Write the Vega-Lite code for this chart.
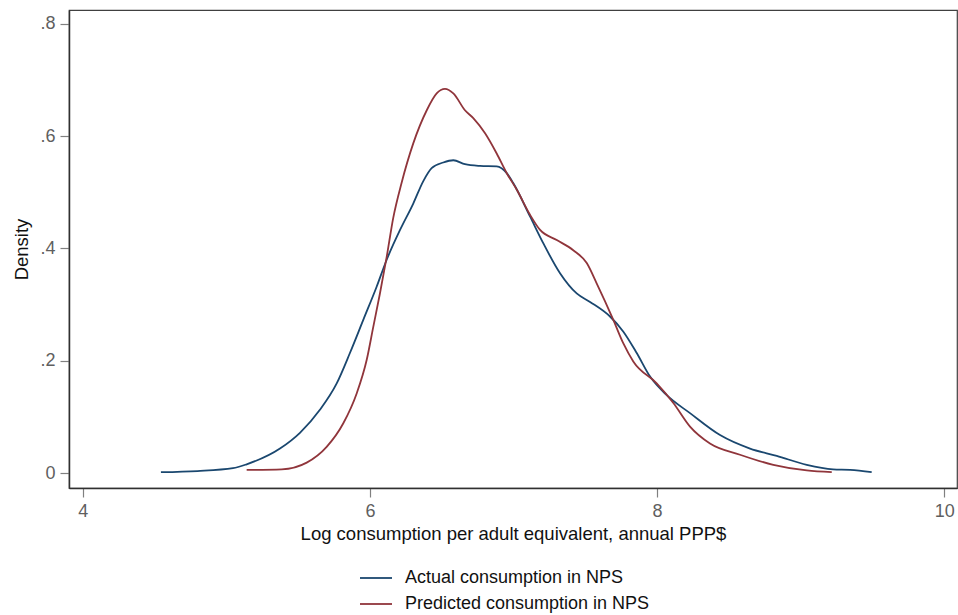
{
  "$schema": "https://vega.github.io/schema/vega-lite/v6.json",
  "width": 888,
  "height": 478,
  "autosize": {"type": "none"},
  "padding": {"left": 69, "top": 10, "right": 1, "bottom": 127},
  "background": "white",
  "config": {
    "font": "Liberation Sans",
    "view": {"stroke": "#404040", "strokeWidth": 1.2},
    "axis": {
      "grid": false,
      "domainColor": "#303030",
      "domainWidth": 1.5,
      "tickColor": "#808080",
      "tickWidth": 1.2,
      "tickSize": 9,
      "labelColor": "#5f5f5f",
      "labelFont": "Liberation Sans",
      "labelFontSize": 18,
      "titleFont": "Liberation Sans",
      "titleFontSize": 18.5,
      "titleFontWeight": "normal",
      "titleColor": "#111111"
    }
  },
  "data": {
    "values": [
      {"x": 4.545, "y": 0.002, "s": "Actual consumption in NPS"},
      {"x": 4.800, "y": 0.004, "s": "Actual consumption in NPS"},
      {"x": 5.047, "y": 0.009, "s": "Actual consumption in NPS"},
      {"x": 5.142, "y": 0.016, "s": "Actual consumption in NPS"},
      {"x": 5.374, "y": 0.044, "s": "Actual consumption in NPS"},
      {"x": 5.513, "y": 0.072, "s": "Actual consumption in NPS"},
      {"x": 5.652, "y": 0.113, "s": "Actual consumption in NPS"},
      {"x": 5.769, "y": 0.160, "s": "Actual consumption in NPS"},
      {"x": 5.861, "y": 0.214, "s": "Actual consumption in NPS"},
      {"x": 5.954, "y": 0.273, "s": "Actual consumption in NPS"},
      {"x": 6.047, "y": 0.332, "s": "Actual consumption in NPS"},
      {"x": 6.117, "y": 0.380, "s": "Actual consumption in NPS"},
      {"x": 6.210, "y": 0.433, "s": "Actual consumption in NPS"},
      {"x": 6.302, "y": 0.480, "s": "Actual consumption in NPS"},
      {"x": 6.372, "y": 0.520, "s": "Actual consumption in NPS"},
      {"x": 6.430, "y": 0.543, "s": "Actual consumption in NPS"},
      {"x": 6.511, "y": 0.553, "s": "Actual consumption in NPS"},
      {"x": 6.581, "y": 0.557, "s": "Actual consumption in NPS"},
      {"x": 6.662, "y": 0.550, "s": "Actual consumption in NPS"},
      {"x": 6.767, "y": 0.547, "s": "Actual consumption in NPS"},
      {"x": 6.883, "y": 0.546, "s": "Actual consumption in NPS"},
      {"x": 6.953, "y": 0.534, "s": "Actual consumption in NPS"},
      {"x": 6.999, "y": 0.516, "s": "Actual consumption in NPS"},
      {"x": 7.115, "y": 0.457, "s": "Actual consumption in NPS"},
      {"x": 7.208, "y": 0.409, "s": "Actual consumption in NPS"},
      {"x": 7.324, "y": 0.356, "s": "Actual consumption in NPS"},
      {"x": 7.440, "y": 0.320, "s": "Actual consumption in NPS"},
      {"x": 7.533, "y": 0.305, "s": "Actual consumption in NPS"},
      {"x": 7.672, "y": 0.279, "s": "Actual consumption in NPS"},
      {"x": 7.765, "y": 0.252, "s": "Actual consumption in NPS"},
      {"x": 7.858, "y": 0.214, "s": "Actual consumption in NPS"},
      {"x": 7.951, "y": 0.172, "s": "Actual consumption in NPS"},
      {"x": 8.067, "y": 0.139, "s": "Actual consumption in NPS"},
      {"x": 8.229, "y": 0.107, "s": "Actual consumption in NPS"},
      {"x": 8.438, "y": 0.068, "s": "Actual consumption in NPS"},
      {"x": 8.647, "y": 0.044, "s": "Actual consumption in NPS"},
      {"x": 8.833, "y": 0.031, "s": "Actual consumption in NPS"},
      {"x": 9.042, "y": 0.015, "s": "Actual consumption in NPS"},
      {"x": 9.225, "y": 0.007, "s": "Actual consumption in NPS"},
      {"x": 9.344, "y": 0.006, "s": "Actual consumption in NPS"},
      {"x": 9.494, "y": 0.002, "s": "Actual consumption in NPS"},
      {"x": 5.142, "y": 0.006, "s": "Predicted consumption in NPS"},
      {"x": 5.386, "y": 0.007, "s": "Predicted consumption in NPS"},
      {"x": 5.560, "y": 0.019, "s": "Predicted consumption in NPS"},
      {"x": 5.699, "y": 0.047, "s": "Predicted consumption in NPS"},
      {"x": 5.815, "y": 0.089, "s": "Predicted consumption in NPS"},
      {"x": 5.908, "y": 0.142, "s": "Predicted consumption in NPS"},
      {"x": 5.978, "y": 0.202, "s": "Predicted consumption in NPS"},
      {"x": 6.024, "y": 0.261, "s": "Predicted consumption in NPS"},
      {"x": 6.070, "y": 0.320, "s": "Predicted consumption in NPS"},
      {"x": 6.117, "y": 0.385, "s": "Predicted consumption in NPS"},
      {"x": 6.163, "y": 0.455, "s": "Predicted consumption in NPS"},
      {"x": 6.221, "y": 0.517, "s": "Predicted consumption in NPS"},
      {"x": 6.302, "y": 0.587, "s": "Predicted consumption in NPS"},
      {"x": 6.396, "y": 0.646, "s": "Predicted consumption in NPS"},
      {"x": 6.465, "y": 0.676, "s": "Predicted consumption in NPS"},
      {"x": 6.523, "y": 0.684, "s": "Predicted consumption in NPS"},
      {"x": 6.581, "y": 0.676, "s": "Predicted consumption in NPS"},
      {"x": 6.662, "y": 0.646, "s": "Predicted consumption in NPS"},
      {"x": 6.720, "y": 0.632, "s": "Predicted consumption in NPS"},
      {"x": 6.802, "y": 0.605, "s": "Predicted consumption in NPS"},
      {"x": 6.883, "y": 0.569, "s": "Predicted consumption in NPS"},
      {"x": 6.953, "y": 0.534, "s": "Predicted consumption in NPS"},
      {"x": 7.022, "y": 0.505, "s": "Predicted consumption in NPS"},
      {"x": 7.115, "y": 0.460, "s": "Predicted consumption in NPS"},
      {"x": 7.185, "y": 0.433, "s": "Predicted consumption in NPS"},
      {"x": 7.301, "y": 0.415, "s": "Predicted consumption in NPS"},
      {"x": 7.416, "y": 0.397, "s": "Predicted consumption in NPS"},
      {"x": 7.510, "y": 0.374, "s": "Predicted consumption in NPS"},
      {"x": 7.579, "y": 0.338, "s": "Predicted consumption in NPS"},
      {"x": 7.695, "y": 0.273, "s": "Predicted consumption in NPS"},
      {"x": 7.765, "y": 0.231, "s": "Predicted consumption in NPS"},
      {"x": 7.834, "y": 0.199, "s": "Predicted consumption in NPS"},
      {"x": 7.997, "y": 0.160, "s": "Predicted consumption in NPS"},
      {"x": 8.113, "y": 0.125, "s": "Predicted consumption in NPS"},
      {"x": 8.229, "y": 0.083, "s": "Predicted consumption in NPS"},
      {"x": 8.368, "y": 0.053, "s": "Predicted consumption in NPS"},
      {"x": 8.577, "y": 0.033, "s": "Predicted consumption in NPS"},
      {"x": 8.809, "y": 0.015, "s": "Predicted consumption in NPS"},
      {"x": 9.042, "y": 0.005, "s": "Predicted consumption in NPS"},
      {"x": 9.216, "y": 0.002, "s": "Predicted consumption in NPS"}
    ]
  },
  "mark": {"type": "line", "interpolate": "monotone", "strokeWidth": 1.8, "clip": true},
  "encoding": {
    "x": {
      "field": "x",
      "type": "quantitative",
      "scale": {"domain": [3.905, 10.088], "nice": false, "zero": false},
      "axis": {
        "values": [4, 6, 8, 10],
        "title": "Log consumption per adult equivalent, annual PPP$",
        "labelPadding": 5,
        "titlePadding": 4
      }
    },
    "y": {
      "field": "y",
      "type": "quantitative",
      "scale": {"domain": [-0.0262, 0.8244], "nice": false, "zero": false},
      "axis": {
        "values": [0, 0.2, 0.4, 0.6, 0.8],
        "labelExpr": "datum.value == 0 ? '0' : replace(format(datum.value, '.1f'), '0.', '.')",
        "title": "Density",
        "labelPadding": 5,
        "titlePadding": 8
      }
    },
    "color": {
      "field": "s",
      "type": "nominal",
      "scale": {
        "domain": ["Actual consumption in NPS", "Predicted consumption in NPS"],
        "range": ["#1a476f", "#90353b"]
      },
      "legend": {
        "title": null,
        "orient": "none",
        "legendX": 290,
        "legendY": 551,
        "direction": "vertical",
        "symbolType": "stroke",
        "symbolSize": 1024,
        "symbolStrokeWidth": 1.8,
        "labelFontSize": 18,
        "labelColor": "#111111",
        "labelFont": "Liberation Sans",
        "labelLimit": 500,
        "labelOffset": 12,
        "rowPadding": -6
      }
    }
  }
}
